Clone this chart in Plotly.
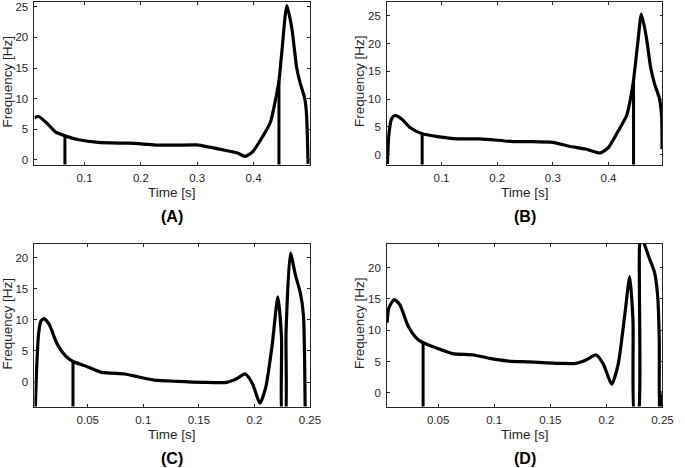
import plotly.graph_objects as go

# ---------------- data ----------------
# Panel A
a_time = [0.011, 0.0185, 0.0372, 0.0489, 0.0651, 0.0895, 0.1244, 0.1768, 0.2, 0.2291, 0.264,
          0.299, 0.3222, 0.3513, 0.3717, 0.385, 0.3979, 0.4154, 0.4298, 0.4386, 0.445, 0.4503,
          0.459, 0.4677, 0.4764, 0.4822, 0.4909, 0.4939, 0.4967]
a_freq = [6.85, 7.06, 5.6, 4.5, 3.9, 3.26, 2.82, 2.7, 2.6, 2.38, 2.38,
          2.42, 2.05, 1.5, 1.08, 0.54, 1.24, 3.69, 6.13, 9.67, 12.9, 17.8,
          25.2, 21.6, 15.1, 12.7, 9.95, 7.5, -0.65]
a_mark_time = [0.0651, 0.445]
a_mark_freq = [3.9, 12.9]

# Panel B
b_time = [0.0027, 0.0055, 0.0103, 0.0162, 0.028, 0.0427, 0.0652, 0.0929, 0.1283, 0.1695, 0.2284,
          0.258, 0.2999, 0.3293, 0.3588, 0.3853, 0.4, 0.4177, 0.4326, 0.4402, 0.445, 0.4531,
          0.4591, 0.4679, 0.4756, 0.4826, 0.4915, 0.4955, 0.4962]
b_freq = [-1.7, 3.7, 6.45, 7.05, 6.45, 4.94, 3.74, 3.25, 2.84, 2.84, 2.35,
          2.35, 2.2, 1.5, 1.0, 0.3, 1.3, 4.3, 7.05, 10.4, 13.4, 20.6,
          25.3, 21.2, 15.8, 12.8, 10.1, 6.75, 1.0]
b_mark_time = [0.0652, 0.445]
b_mark_freq = [3.74, 13.4]

# Panel C
c_time = [0.0027, 0.0039, 0.0057, 0.0078, 0.0107, 0.0152, 0.0225, 0.03, 0.0367, 0.0477, 0.0624,
          0.0832, 0.0949, 0.1098, 0.1304, 0.1541, 0.1747, 0.1836, 0.1918, 0.1984, 0.2049, 0.2102,
          0.2161, 0.2211, 0.2244, 0.2252, 0.2276, 0.2285, 0.2324, 0.2368, 0.2413, 0.2441, 0.2457]
c_freq = [-4.5, 1.8, 7.7, 9.8, 10.2, 9.3, 6.1, 4.2, 3.3, 2.6, 1.55,
          1.3, 0.86, 0.32, 0.11, -0.05, -0.05, 0.5, 1.3, -0.3, -3.4, -0.85,
          6.1, 13.7, 7.15, -6.0, -6.0, 8.0, 20.75, 17.3, 14.35, 10.9, -4.5]
c_mark_time = [0.0367]
c_mark_freq = [3.3]

# Panel D
d_time = [0.0045, 0.0061, 0.0109, 0.0158, 0.0232, 0.0304, 0.0366, 0.048, 0.0626, 0.0816, 0.0962,
          0.1109, 0.1313, 0.1579, 0.1725, 0.1813, 0.1909, 0.1974, 0.2047, 0.2105, 0.2164, 0.2208,
          0.2237, 0.2252, 0.2281, 0.2296, 0.2313, 0.2346, 0.2383, 0.2427, 0.2456, 0.2471, 0.2478,
          0.2484, 0.2487, 0.2492]
d_freq = [11.2, 13.6, 14.9, 14.1, 10.7, 8.8, 8.0, 7.2, 6.26, 6.05, 5.5,
          5.1, 4.94, 4.7, 4.7, 5.2, 6.05, 4.55, 1.37, 4.55, 12.5, 18.6,
          11.5, -4.0, -4.0, 23.7, 25.0, 23.4, 21.5, 19.4, 15.7, 8.8, -4.0,
          -4.0, 0.0, 0.0]
d_mark_time = [0.0366]
d_mark_freq = [8.0]

panel_labels = ["(A)", "(B)", "(C)", "(D)"]
x_title = "Time [s]"
y_title = "Frequency [Hz]"

ab_xticks = [0.1, 0.2, 0.3, 0.4]
ab_xtext = ["0.1", "0.2", "0.3", "0.4"]
cd_xticks = [0.05, 0.1, 0.15, 0.2, 0.25]
cd_xtext = ["0.05", "0.1", "0.15", "0.2", "0.25"]
ab_yticks = [0, 5, 10, 15, 20, 25]
cd_yticks = [0, 5, 10, 15, 20]

# ---------------- layout geometry ----------------
W, H = 685, 468
panels = [
    dict(t=a_time, f=a_freq, mt=a_mark_time, mf=a_mark_freq, xr=[0.011, 0.5], yr=[-0.8, 25.8],
         px=(35, 315), py=(1, 164.3), xt=ab_xticks, xtt=ab_xtext, yt=ab_yticks),
    dict(t=b_time, f=b_freq, mt=b_mark_time, mf=b_mark_freq, xr=[0.002, 0.497], yr=[-1.8, 27.5],
         px=(393.3, 673.3), py=(1, 164.3), xt=ab_xticks, xtt=ab_xtext, yt=ab_yticks),
    dict(t=c_time, f=c_freq, mt=c_mark_time, mf=c_mark_freq, xr=[0.002, 0.25], yr=[-3.94, 22.2],
         px=(35, 315), py=(244, 407.3), xt=cd_xticks, xtt=cd_xtext, yt=cd_yticks),
    dict(t=d_time, f=d_freq, mt=d_mark_time, mf=d_mark_freq, xr=[0.0044, 0.25], yr=[-2.2, 23.8],
         px=(393.3, 673.3), py=(244, 407.3), xt=cd_xticks, xtt=cd_xtext, yt=cd_yticks),
]

FONT = "Liberation Sans, Arial, Helvetica, sans-serif"
TXT = "#262626"

fig = go.Figure()
layout = dict(width=W, height=H, margin=dict(l=0, r=0, t=0, b=0),
              paper_bgcolor="white", plot_bgcolor="white", showlegend=False,
              font=dict(family=FONT, color=TXT, size=11.5))
annotations = []

for i, p in enumerate(panels):
    n = "" if i == 0 else str(i + 1)
    xa, ya = "x" + n, "y" + n
    fig.add_trace(go.Scatter(x=p["t"], y=p["f"], mode="lines", xaxis=xa, yaxis=ya,
                             line=dict(color="black", width=3.2, shape="spline", smoothing=0.6),
                             hoverinfo="skip"))
    for mt, mf in zip(p["mt"], p["mf"]):
        fig.add_trace(go.Scatter(x=[mt, mt], y=[p["yr"][0] - 5, mf], mode="lines",
                                 xaxis=xa, yaxis=ya, line=dict(color="black", width=3),
                                 hoverinfo="skip"))
    x0, x1 = p["px"]
    y0, y1 = p["py"]
    common = dict(ticks="inside", ticklen=3, tickcolor=TXT, tickwidth=0.8,
                  showline=True, linecolor=TXT, linewidth=0.8, mirror="ticks",
                  showgrid=False, zeroline=False, ticklabelstandoff=3,
                  ticklabeloverflow="allow",
                  tickfont=dict(size=11.5, color=TXT, family=FONT))
    layout["xaxis" + n] = dict(domain=[x0 / W, x1 / W], range=p["xr"], anchor=ya,
                               tickmode="array", tickvals=p["xt"], ticktext=p["xtt"], **common)
    layout["yaxis" + n] = dict(domain=[1 - y1 / H, 1 - y0 / H], range=p["yr"], anchor=xa,
                               tickmode="array", tickvals=p["yt"], **common)
    cx = (x0 + x1) / 2
    annotations.append(dict(text=x_title, x=cx / W, y=1 - (y1 + 28.5) / H, xref="paper",
                            yref="paper", showarrow=False, xanchor="center", yanchor="middle",
                            font=dict(size=13.5, color=TXT, family=FONT)))
    annotations.append(dict(text="<b>" + panel_labels[i] + "</b>", x=cx / W,
                            y=1 - (y1 + 52.5) / H, xref="paper", yref="paper",
                            showarrow=False, xanchor="center", yanchor="middle",
                            font=dict(size=16, color="black", family=FONT)))
    annotations.append(dict(text=y_title, x=(x0 - 27.7) / W, y=1 - ((y0 + y1) / 2 - 2) / H,
                            xref="paper", yref="paper", showarrow=False, textangle=-90,
                            xanchor="center", yanchor="middle",
                            font=dict(size=13.5, color=TXT, family=FONT)))

layout["annotations"] = annotations
fig.update_layout(**layout)
fig.write_html("out.html", config={"displayModeBar": False},
               post_script="document.body.style.margin='0';document.body.style.overflow='hidden';")
